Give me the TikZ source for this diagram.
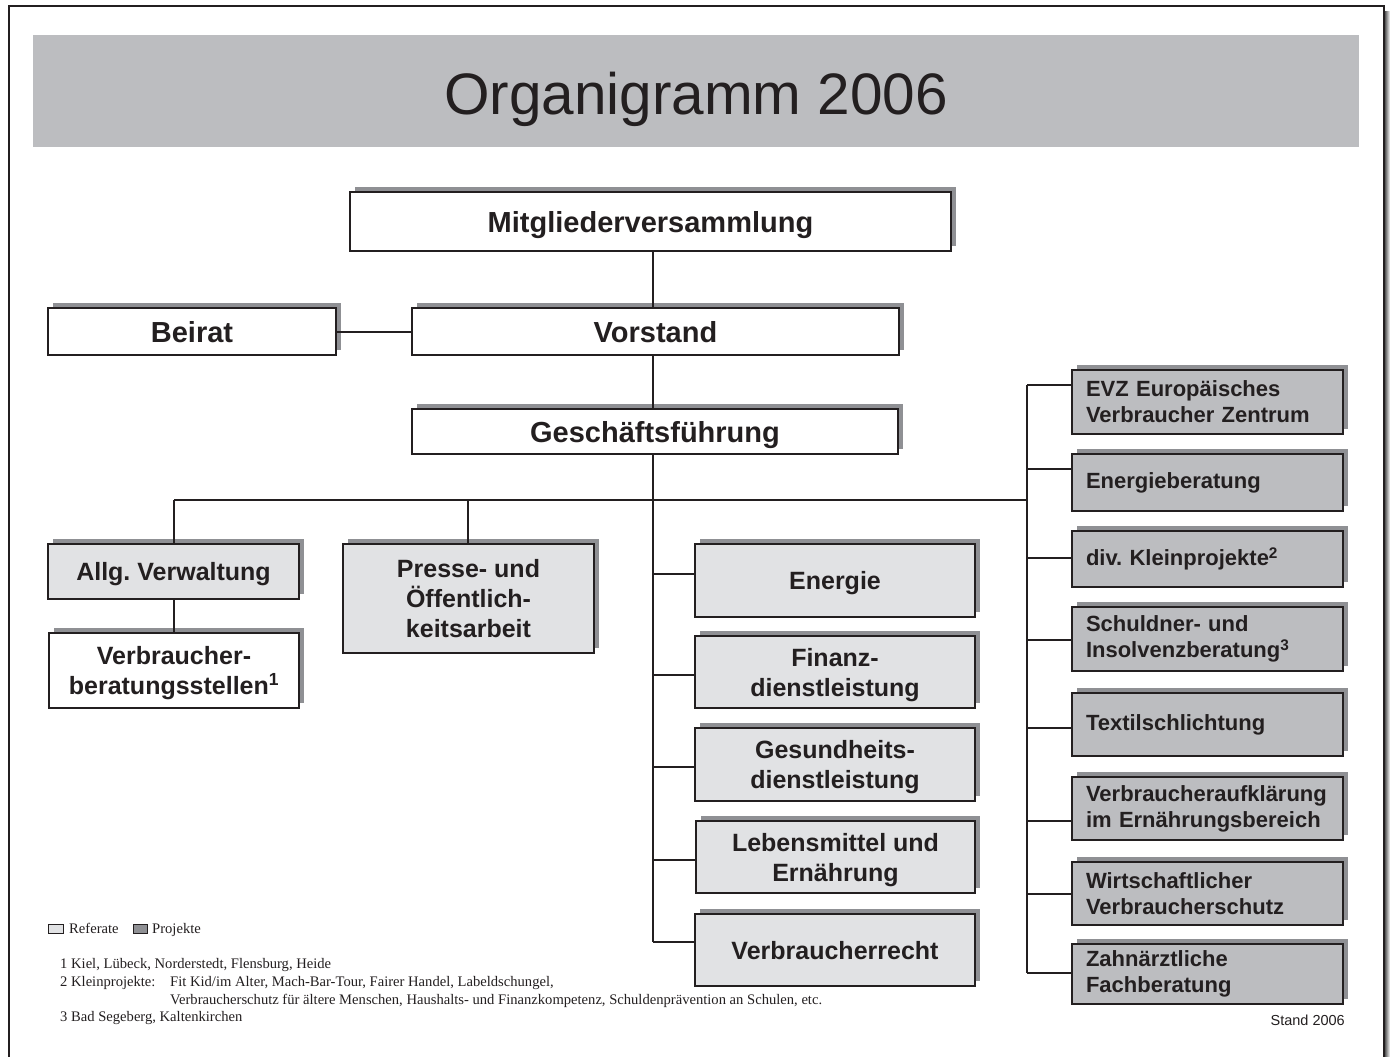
\documentclass[tikz,border=0pt]{standalone}
\usepackage{fontspec}
\setmainfont{Liberation Sans}
\newfontfamily\seriffont{Liberation Serif}
\usetikzlibrary{shadows}
\frenchspacing

\definecolor{bandgray}{HTML}{BCBDC0}
\definecolor{refgray}{HTML}{E1E2E4}
\definecolor{shadowgray}{HTML}{8F9094}
\definecolor{ink}{HTML}{231F20}

\tikzset{
  orgbox/.style={draw=ink, line width=1.3pt, inner sep=0pt, align=center, text=ink, text depth=0pt,
    drop shadow={shadow xshift=5pt, shadow yshift=5pt, fill=shadowgray, opacity=1}},
  topbox/.style={orgbox, fill=white, font=\fontsize{29}{34}\selectfont\bfseries},
  refbox/.style={orgbox, fill=refgray, font=\fontsize{25}{30}\selectfont\bfseries},
  whitemid/.style={orgbox, fill=white, font=\fontsize{25}{30}\selectfont\bfseries},
  projbox/.style={orgbox, text depth=, fill=bandgray, font=\fontsize{22}{26}\selectfont\bfseries,
    minimum width=271pt, text width=243pt, align=left},
  conn/.style={draw=ink, line width=1.3pt},
  foot/.style={anchor=base west, inner sep=0pt, text=ink, font=\seriffont\fontsize{14.6}{16}\selectfont},
}

\begin{document}
\begin{tikzpicture}[x=1pt,y=-1pt]
\useasboundingbox (0,0) rectangle (1390,1057);
\fill[white] (0,0) rectangle (1390,1057);

% outer frame
\shade[left color=black!65, right color=white] (1385,12) rectangle (1390,1057);
\draw[ink, line width=1.2pt] (9,1060) -- (9,6) -- (1384,6) -- (1384,1060);

% title band
\fill[bandgray] (33,35) rectangle (1359,147);
\node[text=ink, font=\fontsize{58.5}{64}\selectfont, inner sep=0pt, text depth=0pt] (title) at (696,93) {Organigramm 2006};

% top boxes
\node[topbox, minimum width=601pt, minimum height=59pt] (mv) at (650.5,221.5) {Mitgliederversammlung};
\node[topbox, minimum width=288pt, minimum height=47pt] (beirat) at (192,331.5) {Beirat};
\node[topbox, minimum width=487pt, minimum height=47pt] (vorstand) at (655.5,331.5) {Vorstand};
\node[topbox, minimum width=486pt, minimum height=45pt] (gf) at (655,431.5) {Geschäftsführung};

% left boxes
\node[refbox, minimum width=251pt, minimum height=55pt] (allg) at (173.5,571.5) {Allg. Verwaltung};
\node[whitemid, minimum width=250pt, minimum height=75pt] (vbs) at (174,670.5) {Verbraucher-\\beratungsstellen\textsuperscript{1}};
\node[refbox, minimum width=251pt, minimum height=109pt] (presse) at (468.5,598.5) {Presse- und\\Öffentlich-\\keitsarbeit};

% middle column
\node[refbox, minimum width=280pt, minimum height=73pt] (energie) at (835,580.5) {Energie};
\node[refbox, minimum width=280pt, minimum height=72pt] (finanz) at (835,672) {Finanz-\\dienstleistung};
\node[refbox, minimum width=280pt, minimum height=73pt] (gesund) at (835,764.5) {Gesundheits-\\dienstleistung};
\node[refbox, minimum width=279pt, minimum height=72pt] (leben) at (835.5,857) {Lebensmittel und\\Ernährung};
\node[refbox, minimum width=280pt, minimum height=72pt] (vrecht) at (835,950) {Verbraucherrecht};

% right column
\node[projbox, minimum height=64pt] (evz) at (1207.5,402) {EVZ Europäisches\\Verbraucher Zentrum};
\node[projbox, minimum height=57pt] (energieb) at (1207.5,482.5) {Energieberatung};
\node[projbox, minimum height=56pt] (klein) at (1207.5,559) {div. Kleinprojekte\textsuperscript{2}};
\node[projbox, minimum height=64pt] (schuld) at (1207.5,639) {Schuldner- und\\Insolvenzberatung\textsuperscript{3}};
\node[projbox, minimum height=63pt] (textil) at (1207.5,724.5) {Textilschlichtung};
\node[projbox, minimum height=63pt] (aufkl) at (1207.5,808.5) {Verbraucheraufklärung\\im Ernährungsbereich};
\node[projbox, minimum height=63pt] (wirt) at (1207.5,893.5) {Wirtschaftlicher\\Verbraucherschutz};
\node[projbox, minimum height=60pt] (zahn) at (1207.5,974) {Zahnärztliche\\Fachberatung};

% connector coordinates
\coordinate (sp) at (653,0);
\coordinate (bv) at (0,332);
\coordinate (busL) at (174,500);
\coordinate (busP) at (468,500);
\coordinate (busR) at (1027,500);
\coordinate (m1) at (653,574);
\coordinate (m2) at (653,675);
\coordinate (m3) at (653,767);
\coordinate (m4) at (653,860);
\coordinate (m5) at (653,942);
\coordinate (r1) at (1027,385);
\coordinate (r2) at (1027,469);
\coordinate (r3) at (1027,558);
\coordinate (r4) at (1027,640);
\coordinate (r5) at (1027,728);
\coordinate (r6) at (1027,821);
\coordinate (r7) at (1027,894);
\coordinate (r8) at (1027,973);

% connectors
\draw[conn] (mv.south -| sp) -- (vorstand.north -| sp);
\draw[conn] (beirat.east |- bv) -- (vorstand.west |- bv);
\draw[conn] (vorstand.south -| sp) -- (gf.north -| sp);
\draw[conn] (gf.south -| sp) -- (m5);
\draw[conn] (busL) -- (busR);
\draw[conn] (busL) -- (allg.north -| busL);
\draw[conn] (allg.south -| busL) -- (vbs.north -| busL);
\draw[conn] (busP) -- (presse.north -| busP);
\draw[conn] (m1) -- (m1 -| energie.west);
\draw[conn] (m2) -- (m2 -| finanz.west);
\draw[conn] (m3) -- (m3 -| gesund.west);
\draw[conn] (m4) -- (m4 -| leben.west);
\draw[conn] (m5) -- (m5 -| vrecht.west);
\draw[conn] (r1) -- (r8);
\draw[conn] (r1) -- (r1 -| evz.west);
\draw[conn] (r2) -- (r2 -| energieb.west);
\draw[conn] (r3) -- (r3 -| klein.west);
\draw[conn] (r4) -- (r4 -| schuld.west);
\draw[conn] (r5) -- (r5 -| textil.west);
\draw[conn] (r6) -- (r6 -| aufkl.west);
\draw[conn] (r7) -- (r7 -| wirt.west);
\draw[conn] (r8) -- (r8 -| zahn.west);

% legend
\node[draw=ink, line width=0.8pt, fill=refgray, minimum width=15pt, minimum height=9pt, inner sep=0pt] (legref) at (55.5,928.5) {};
\node[foot] (legreft) at (69,933.5) {Referate};
\node[draw=ink, line width=0.8pt, fill=shadowgray, minimum width=14pt, minimum height=9pt, inner sep=0pt] (legproj) at (140,928.5) {};
\node[foot] (legprojt) at (152,933.5) {Projekte};

% footnotes
\node[foot] (f1) at (60,968.5) {1 Kiel, Lübeck, Norderstedt, Flensburg, Heide};
\node[foot] (f2) at (60,986.5) {2 Kleinprojekte:};
\node[foot] (f2a) at (170,986.5) {Fit Kid/im Alter, Mach-Bar-Tour, Fairer Handel, Labeldschungel,};
\node[foot] (f2b) at (170,1004.5) {Verbraucherschutz für ältere Menschen, Haushalts- und Finanzkompetenz, Schuldenprävention an Schulen, etc.};
\node[foot] (f3) at (60,1021.5) {3 Bad Segeberg, Kaltenkirchen};

\node[anchor=east, inner sep=0pt, text=ink, font=\fontsize{14.5}{16}\selectfont] (stand) at (1345,1020) {Stand 2006};
\end{tikzpicture}
\end{document}
